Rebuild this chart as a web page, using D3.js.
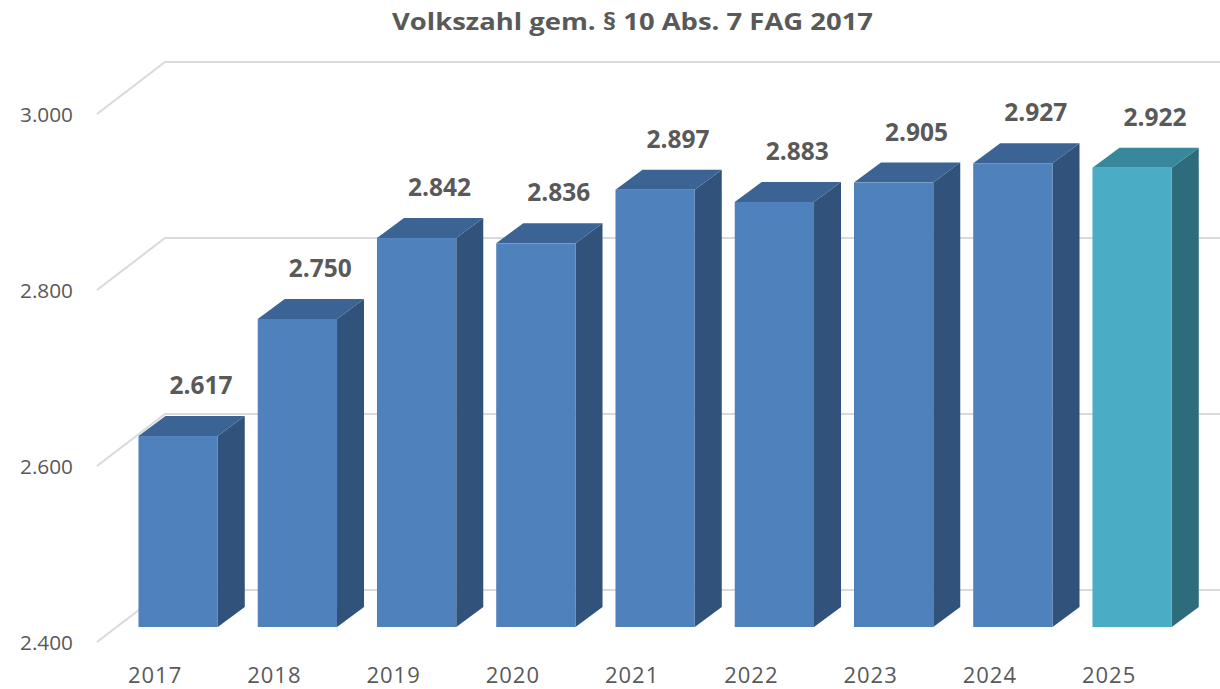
<!DOCTYPE html>
<html><head><meta charset="utf-8">
<script src="https://cdn.jsdelivr.net/npm/d3@7"></script>
<style>body{margin:0;background:#fff}svg{display:block}</style>
</head><body><svg id="c" width="1220" height="689"></svg>
<script>
const categories = ["2017","2018","2019","2020","2021","2022","2023","2024","2025"];
const values = [2617, 2750, 2842, 2836, 2897, 2883, 2905, 2927, 2922];
const tickValues = [2400, 2600, 2800, 3000];
const title = "Volkszahl gem. § 10 Abs. 7 FAG 2017";

const W = 1220, H = 689;
const svg = d3.select("#c");
const de = d3.formatLocale({decimal: ",", thousands: ".", grouping: [3], currency: ["", "€"]});
const fmt = de.format(",d");

// front plane of axis
const y = d3.scaleLinear().domain([2400, 3000]).range([642, 114]);
const wallDX = 68, wallDY = -52;     // full depth of the wall
const barOffX = 20, barOffY = -15;   // bar front plane offset from front plane
const depthX = 27, depthY = -20;     // bar depth

const x = d3.scaleBand().domain(categories).range([98.5, 98.5 + 9 * 119.25]).paddingInner(0.335).paddingOuter(0.1675);

const grey = "#595959";

// title
svg.append("text").attr("x", 392).attr("y", 30).attr("text-anchor", "start")
  .attr("font-family", "Open Sans").attr("font-weight", 700).attr("font-size", 23)
  .attr("textLength", 481).attr("lengthAdjust", "spacingAndGlyphs")
  .attr("fill", grey).text(title);

// gridlines (left wall diagonal + back wall horizontal)
const grid = svg.append("g").attr("stroke", "#d9d9d9").attr("stroke-width", 2).attr("fill", "none");
tickValues.forEach(t => {
  const y0 = y(t);
  grid.append("path").attr("d", `M97,${y0}L${97 + wallDX},${y0 + wallDY}L${W},${y0 + wallDY}`);
});

// y labels
svg.append("g").selectAll("text").data(tickValues).join("text")
  .attr("x", 73).attr("y", d => y(d) + 1).attr("dy", "0.35em").attr("text-anchor", "end")
  .attr("font-family", "Open Sans").attr("font-size", 19.5).attr("fill", grey)
  .attr("textLength", 53).attr("lengthAdjust", "spacingAndGlyphs")
  .text(d => fmt(d));

// bars
const colors = values.map((v, i) => i === values.length - 1
  ? {front: "#4BACC6", top: "#36889A", side: "#2F6C7B"}
  : {front: "#4F81BD", top: "#3B6494", side: "#31527A"});

const bars = svg.append("g");
categories.forEach((c, i) => {
  const x0 = x(c) + barOffX, x1 = x0 + x.bandwidth();
  const yt = y(values[i]) + barOffY, yb = y(2400) + barOffY;
  const col = colors[i];
  bars.append("path").attr("fill", col.side)
    .attr("d", `M${x1},${yt}L${x1 + depthX},${yt + depthY}L${x1 + depthX},${yb + depthY}L${x1},${yb}Z`);
  bars.append("path").attr("fill", col.top)
    .attr("d", `M${x0},${yt}L${x0 + depthX},${yt + depthY}L${x1 + depthX},${yt + depthY}L${x1},${yt}Z`);
  bars.append("rect").attr("fill", col.front)
    .attr("x", x0).attr("y", yt).attr("width", x1 - x0).attr("height", yb - yt);
  bars.append("text").attr("x", (x0 + x1) / 2 + 23).attr("y", yt - 42)
    .attr("text-anchor", "middle").attr("font-family", "Open Sans").attr("font-weight", 700)
    .attr("font-size", 24.5).attr("fill", grey).text(fmt(values[i]));
});

// x labels
svg.append("g").selectAll("text").data(categories).join("text")
  .attr("x", d => x(d) + x.bandwidth() / 2 - 3).attr("y", 683).attr("text-anchor", "middle")
  .attr("font-family", "Open Sans").attr("font-size", 22).attr("letter-spacing", 1).attr("fill", grey).text(d => d);
</script></body></html>
